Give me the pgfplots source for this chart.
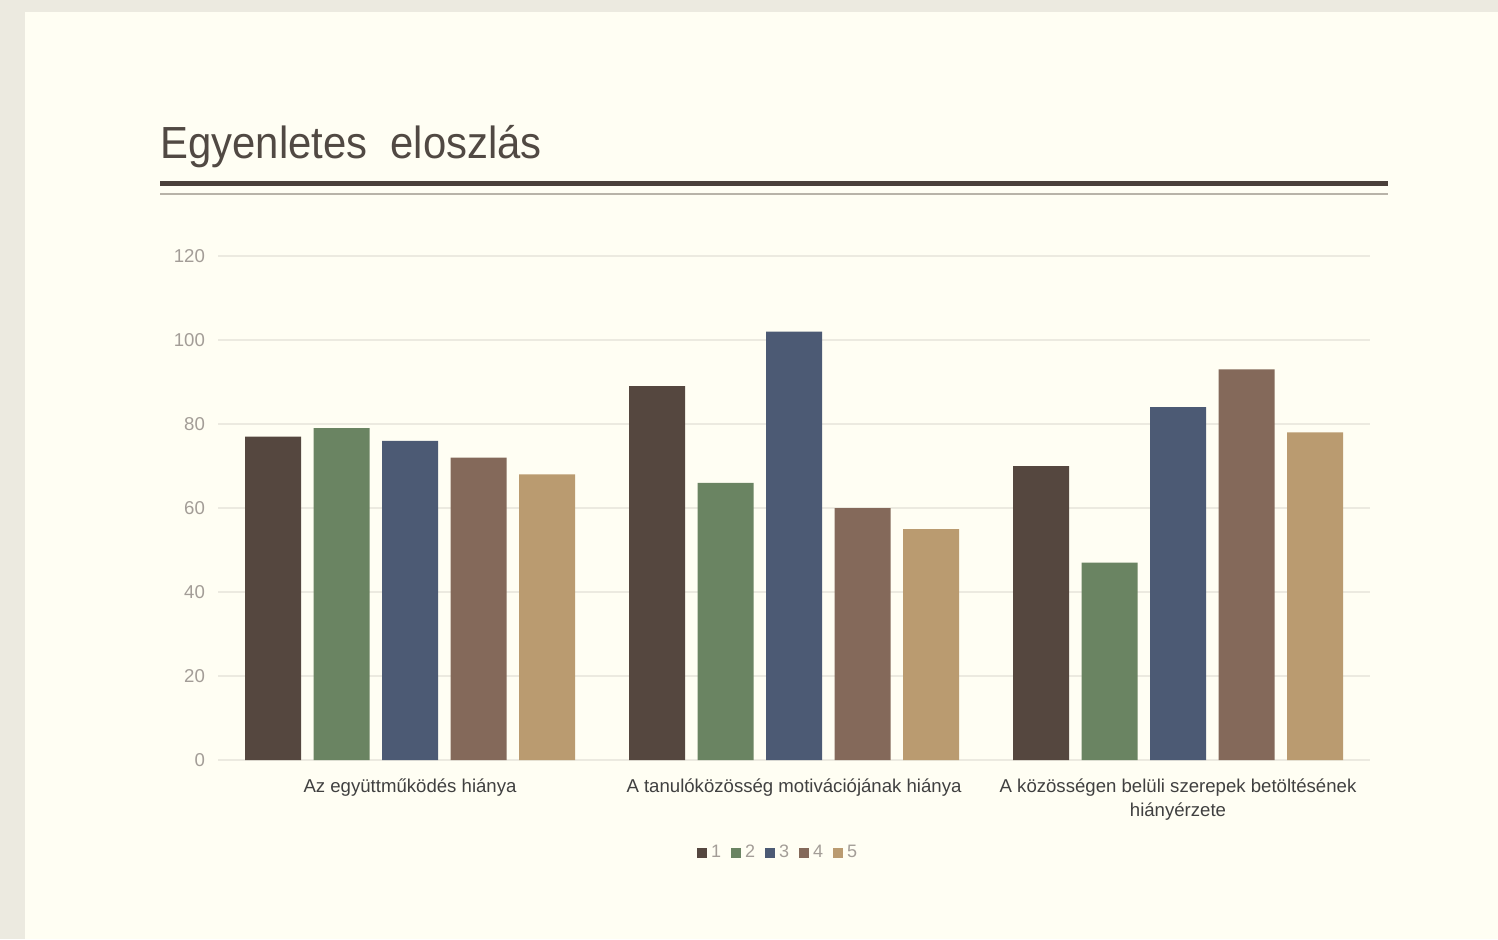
\documentclass[border=0pt]{standalone}
\usepackage{fontspec}
\setmainfont{Liberation Sans}
\usepackage{pgfplots}
\pgfplotsset{compat=1.18}
\definecolor{bgout}{HTML}{ECEAE0}
\definecolor{panel}{HTML}{FFFEF3}
\definecolor{titlec}{HTML}{514943}
\definecolor{rulea}{HTML}{4A403A}
\definecolor{ruleb}{HTML}{B8B3A8}
\definecolor{tickc}{HTML}{A39D97}
\definecolor{labc}{HTML}{404040}
\definecolor{gridc}{HTML}{ECEAE0}
\definecolor{c1}{HTML}{55473F}
\definecolor{c2}{HTML}{6A8462}
\definecolor{c3}{HTML}{4C5A74}
\definecolor{c4}{HTML}{84695A}
\definecolor{c5}{HTML}{BA9B70}
\begin{document}
\begin{tikzpicture}[x=0.5pt,y=-0.5pt]
% background and panel
\fill[bgout] (0,0) rectangle (1498,939);
\fill[panel] (25,12) rectangle (1498,939);
% title and rules
\node[anchor=base west, inner sep=0pt, text=titlec, xscale=0.93,
      font=\fontsize{22.5}{26}\selectfont] at (160,158) {Egyenletes\ \ eloszlás};
\draw[rulea, line width=2.5pt] (160,183) -- (1388,183);
\draw[ruleb, line width=1pt] (160,194) -- (1388,194);

\begin{axis}[
    at={(109pt,-380pt)}, anchor=south west,
    scale only axis,
    width=576pt, height=252pt,
    ymin=0, ymax=120,
    xmin=-0.5, xmax=2.5,
    ytick={0,20,...,120},
    xtick={0,1,2},
    xticklabels={Az együttműködés hiánya,
                 A tanulóközösség motivációjának hiánya,
                 {A közösségen belüli szerepek betöltésének\\hiányérzete}},
    xticklabel style={align=center, font=\fontsize{9.3}{12}\selectfont,
                      text=labc, yshift=-1.5pt},
    yticklabel style={font=\fontsize{9.3}{11}\selectfont, text=tickc, xshift=-3pt},
    /pgf/number format/assume math mode=true,
    axis line style={draw=none},
    tick style={draw=none},
    ymajorgrids=true,
    grid style={gridc, line width=1pt},
    ybar=6.25pt,
    bar width=28pt,
    legend columns=-1,
    legend style={at={(0.487,-0.181)}, anchor=center, draw=none, fill=none,
                  font=\fontsize{9}{11}\selectfont, text=tickc,
                  nodes={text height=6.5pt, text depth=0pt, anchor=base},
                  /tikz/every even column/.append style={column sep=3pt},
                  inner sep=0pt},
    legend image code/.code={\fill[#1] (0pt,-0.3pt) rectangle (5pt,4.7pt);},
]
\addplot[fill=c1, draw=none] coordinates {(0,77) (1,89) (2,70)};
\addplot[fill=c2, draw=none] coordinates {(0,79) (1,66) (2,47)};
\addplot[fill=c3, draw=none] coordinates {(0,76) (1,102) (2,84)};
\addplot[fill=c4, draw=none] coordinates {(0,72) (1,60) (2,93)};
\addplot[fill=c5, draw=none] coordinates {(0,68) (1,55) (2,78)};
\legend{1,2,3,4,5}
\end{axis}
\end{tikzpicture}
\end{document}
